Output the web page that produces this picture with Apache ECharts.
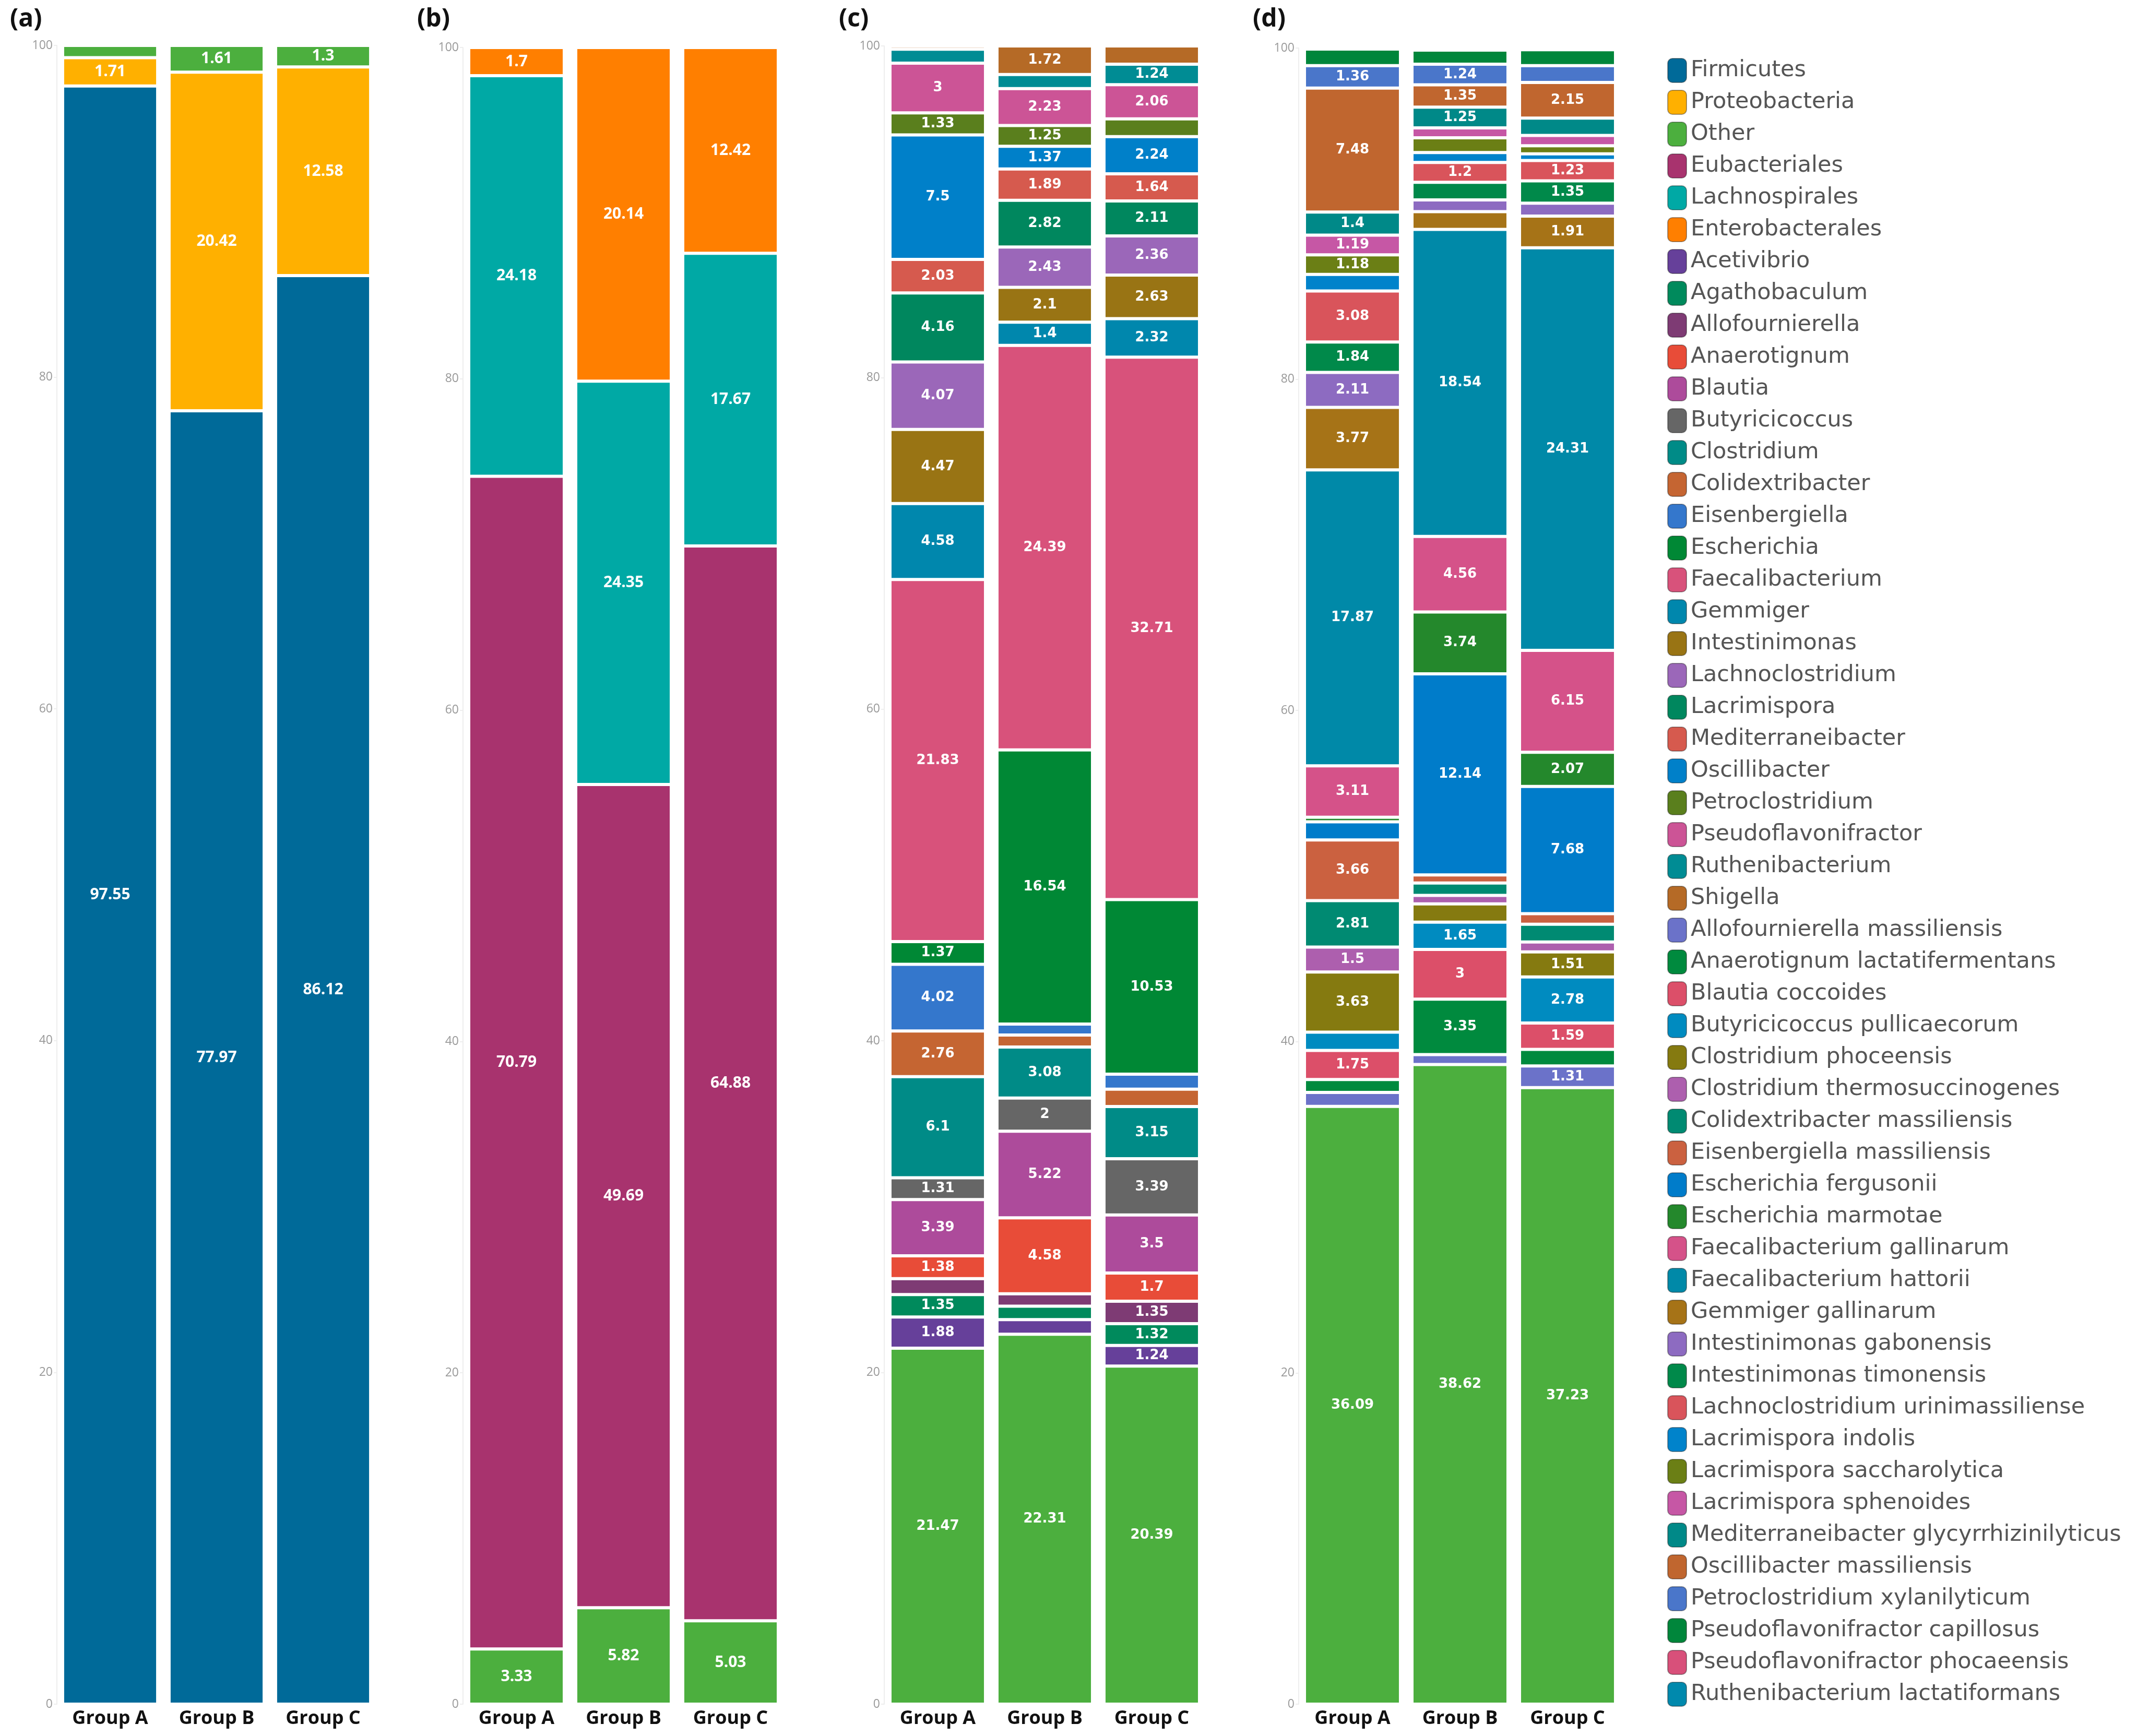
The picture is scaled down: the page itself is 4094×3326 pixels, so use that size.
<!DOCTYPE html>
<html>
<head>
<meta charset="utf-8">
<script src="https://cdn.jsdelivr.net/npm/echarts@6/dist/echarts.min.js"></script>
<style>
  html, body { margin: 0; padding: 0; background: #fff; }
  #chart { width: 4094px; height: 3326px; }
</style>
</head>
<body>
<div id="chart"></div>
<script>
const groups = [ 'Group A', 'Group B', 'Group C' ]
const yTicks = [ 0, 20, 40, 60, 80, 100 ]

// (a) phylum
const phylumNames = [ 'Firmicutes', 'Proteobacteria', 'Other' ]
const phylumValues = [
	[ 97.55, 77.97, 86.12 ],
	[ 1.71, 20.42, 12.58 ],
	[ 0.74, 1.61, 1.3 ],
]

// (b) order
const orderNames = [ 'Other', 'Eubacteriales', 'Lachnospirales', 'Enterobacterales' ]
const orderValues = [
	[ 3.33, 5.82, 5.03 ],
	[ 70.79, 49.69, 64.88 ],
	[ 24.18, 24.35, 17.67 ],
	[ 1.7, 20.14, 12.42 ],
]

// (c) genus
const genusNames = [ 'Other', 'Acetivibrio', 'Agathobaculum', 'Allofournierella', 'Anaerotignum', 'Blautia',
	'Butyricicoccus', 'Clostridium', 'Colidextribacter', 'Eisenbergiella', 'Escherichia', 'Faecalibacterium',
	'Gemmiger', 'Intestinimonas', 'Lachnoclostridium', 'Lacrimispora', 'Mediterraneibacter', 'Oscillibacter',
	'Petroclostridium', 'Pseudoflavonifractor', 'Ruthenibacterium', 'Shigella' ]
const genusValues = [
	[ 21.47, 22.31, 20.39 ],
	[ 1.88, 0.88, 1.24 ],
	[ 1.35, 0.81, 1.32 ],
	[ 0.96, 0.75, 1.35 ],
	[ 1.38, 4.58, 1.7 ],
	[ 3.39, 5.22, 3.5 ],
	[ 1.31, 2, 3.39 ],
	[ 6.1, 3.08, 3.15 ],
	[ 2.76, 0.72, 1.05 ],
	[ 4.02, 0.66, 0.9 ],
	[ 1.37, 16.54, 10.53 ],
	[ 21.83, 24.39, 32.71 ],
	[ 4.58, 1.4, 2.32 ],
	[ 4.47, 2.1, 2.63 ],
	[ 4.07, 2.43, 2.36 ],
	[ 4.16, 2.82, 2.11 ],
	[ 2.03, 1.89, 1.64 ],
	[ 7.5, 1.37, 2.24 ],
	[ 1.33, 1.25, 1.07 ],
	[ 3, 2.23, 2.06 ],
	[ 0.84, 0.85, 1.24 ],
	[ 0.2, 1.72, 1.1 ],
]

// (d) species
const speciesNames = [ 'Other', 'Allofournierella massiliensis', 'Anaerotignum lactatifermentans', 'Blautia coccoides',
	'Butyricicoccus pullicaecorum', 'Clostridium phoceensis', 'Clostridium thermosuccinogenes',
	'Colidextribacter massiliensis', 'Eisenbergiella massiliensis', 'Escherichia fergusonii', 'Escherichia marmotae',
	'Faecalibacterium gallinarum', 'Faecalibacterium hattorii', 'Gemmiger gallinarum', 'Intestinimonas gabonensis',
	'Intestinimonas timonensis', 'Lachnoclostridium urinimassiliense', 'Lacrimispora indolis',
	'Lacrimispora saccharolytica', 'Lacrimispora sphenoides', 'Mediterraneibacter glycyrrhizinilyticus',
	'Oscillibacter massiliensis', 'Petroclostridium xylanilyticum', 'Pseudoflavonifractor capillosus',
	'Pseudoflavonifractor phocaeensis', 'Ruthenibacterium lactatiformans' ]
const speciesValues = [
	[ 36.09, 38.62, 37.23 ],
	[ 0.85, 0.6, 1.31 ],
	[ 0.78, 3.35, 1.0 ],
	[ 1.75, 3, 1.59 ],
	[ 1.11, 1.65, 2.78 ],
	[ 3.63, 1.1, 1.51 ],
	[ 1.5, 0.51, 0.6 ],
	[ 2.81, 0.75, 1.07 ],
	[ 3.66, 0.49, 0.64 ],
	[ 1.1, 12.14, 7.68 ],
	[ 0.27, 3.74, 2.07 ],
	[ 3.11, 4.56, 6.15 ],
	[ 17.87, 18.54, 24.31 ],
	[ 3.77, 1.07, 1.91 ],
	[ 2.11, 0.71, 0.78 ],
	[ 1.84, 1.06, 1.35 ],
	[ 3.08, 1.2, 1.23 ],
	[ 1.0, 0.6, 0.4 ],
	[ 1.18, 0.89, 0.49 ],
	[ 1.19, 0.6, 0.62 ],
	[ 1.4, 1.25, 1.05 ],
	[ 7.48, 1.35, 2.15 ],
	[ 1.36, 1.24, 1.02 ],
	[ 1.0, 0.85, 0.96 ],
	[ 0, 0, 0 ],
	[ 0, 0, 0 ],
]

const colors = {
	'Firmicutes': '#006a99', 'Proteobacteria': '#ffb000', 'Other': '#4caf3e', 'Eubacteriales': '#a8336e',
	'Lachnospirales': '#00a9a5', 'Enterobacterales': '#ff7f00', 'Acetivibrio': '#66409a', 'Agathobaculum': '#008a5c',
	'Allofournierella': '#7e3b74', 'Anaerotignum': '#e84c38', 'Blautia': '#ad4b9b', 'Butyricicoccus': '#666666',
	'Clostridium': '#008b87', 'Colidextribacter': '#c56532', 'Eisenbergiella': '#3477cc', 'Escherichia': '#008835',
	'Faecalibacterium': '#d8527b', 'Gemmiger': '#0087ad', 'Intestinimonas': '#997414', 'Lachnoclostridium': '#9b67b9',
	'Lacrimispora': '#00875e', 'Mediterraneibacter': '#d65a4e', 'Oscillibacter': '#0080c9', 'Petroclostridium': '#5a7f1d',
	'Pseudoflavonifractor': '#cc5496', 'Ruthenibacterium': '#008c94', 'Shigella': '#b56a26',
	'Allofournierella massiliensis': '#6b72c9', 'Anaerotignum lactatifermentans': '#008a3e',
	'Blautia coccoides': '#dc4f69', 'Butyricicoccus pullicaecorum': '#008bc0', 'Clostridium phoceensis': '#857a10',
	'Clostridium thermosuccinogenes': '#ad5fae', 'Colidextribacter massiliensis': '#008a72',
	'Eisenbergiella massiliensis': '#cb6140', 'Escherichia fergusonii': '#007cca', 'Escherichia marmotae': '#24882c',
	'Faecalibacterium gallinarum': '#d55289', 'Faecalibacterium hattorii': '#0089a8', 'Gemmiger gallinarum': '#a67317',
	'Intestinimonas gabonensis': '#8d6bc1', 'Intestinimonas timonensis': '#00894a',
	'Lachnoclostridium urinimassiliense': '#d9545b', 'Lacrimispora indolis': '#0083cb',
	'Lacrimispora saccharolytica': '#6b7f15', 'Lacrimispora sphenoides': '#c657a5',
	'Mediterraneibacter glycyrrhizinilyticus': '#008988', 'Oscillibacter massiliensis': '#c0662f',
	'Petroclostridium xylanilyticum': '#4a76ca', 'Pseudoflavonifractor capillosus': '#00863b',
	'Pseudoflavonifractor phocaeensis': '#d8507a', 'Ruthenibacterium lactatiformans': '#0089ad',
}

const panels = [
	{ tag: '(a)', names: phylumNames, values: phylumValues, left: 109, top: 87, width: 612, titleX: 14, font: 'Open Sans', size: 30 },
	{ tag: '(b)', names: orderNames, values: orderValues, left: 887, top: 91, width: 615, titleX: 794, font: 'Open Sans', size: 30 },
	{ tag: '(c)', names: genusNames, values: genusValues, left: 1694, top: 88, width: 615, titleX: 1602, font: 'DejaVu Sans', size: 26 },
	{ tag: '(d)', names: speciesNames, values: speciesValues, left: 2488, top: 92, width: 618, titleX: 2395, font: 'DejaVu Sans', size: 26 },
]
const bottom = 3265

const legendNames = []
for ( const p of panels ) for ( const n of p.names ) if ( !legendNames.includes( n ) ) legendNames.push( n )

const series = []
panels.forEach( ( p, i ) => {
	p.names.forEach( ( name, k ) => {
		series.push( {
			name,
			type: 'bar',
			stack: 'panel' + i,
			xAxisIndex: i,
			yAxisIndex: i,
			barCategoryGap: '10.7%',
			data: p.values[ k ],
			itemStyle: { color: colors[ name ], borderColor: '#fff', borderWidth: 3 },
			label: {
				show: true,
				position: 'inside',
				color: '#fff',
				fontWeight: 'bold',
				fontFamily: p.font,
				fontSize: p.size,
				formatter: d => d.value >= 1.15 ? String( d.value ) : '',
			},
		} )
	} )
} )

const chart = echarts.init( document.getElementById( 'chart' ), null, { renderer: 'canvas' } )

chart.setOption( {
	animation: false,
	backgroundColor: '#fff',
	title: panels.map( p => ( {
		text: p.tag,
		left: p.titleX,
		top: 8,
		textStyle: { fontFamily: 'Open Sans', fontWeight: 'bold', fontSize: 48, color: '#111' },
	} ) ),
	legend: {
		orient: 'vertical',
		left: 3189,
		top: 106,
		height: 3200,
		data: legendNames,
		icon: 'roundRect',
		itemWidth: 36,
		itemHeight: 46,
		itemGap: 13,
		selectedMode: false,
		itemStyle: { borderColor: 'rgba(0,0,0,0.35)', borderWidth: 2 },
		textStyle: { fontFamily: 'DejaVu Sans', fontSize: 43, color: '#555', padding: [ 0, 0, 0, 3 ] },
	},
	grid: panels.map( p => ( { left: p.left, top: p.top, width: p.width, height: bottom - p.top } ) ),
	xAxis: panels.map( ( p, i ) => ( {
		type: 'category',
		gridIndex: i,
		data: groups,
		axisLine: { show: false },
		axisTick: { show: false },
		axisLabel: { fontFamily: 'Open Sans', fontWeight: 'bold', fontSize: 36, color: '#111', margin: 10 },
	} ) ),
	yAxis: panels.map( ( p, i ) => ( {
		type: 'value',
		gridIndex: i,
		min: yTicks[ 0 ],
		max: yTicks[ yTicks.length - 1 ],
		interval: 20,
		splitLine: { show: false },
		axisLine: { show: true, lineStyle: { color: '#eeeeee', width: 2 } },
		axisTick: { show: true, length: 6, lineStyle: { color: '#eeeeee', width: 2 } },
		axisLabel: { fontFamily: 'Open Sans', fontSize: 23, color: '#999', margin: 8 },
	} ) ),
	series,
} )
</script>
</body>
</html>
